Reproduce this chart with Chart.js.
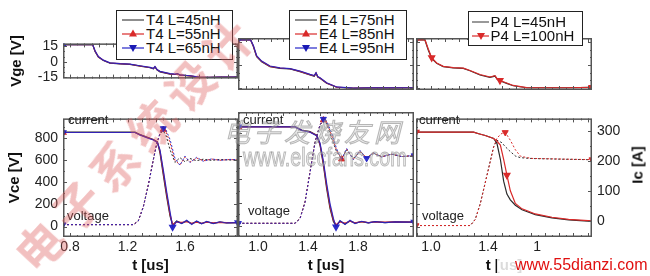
<!DOCTYPE html>
<html><head><meta charset="utf-8">
<script src="https://cdn.jsdelivr.net/npm/chart.js@4.4.1/dist/chart.umd.min.js"></script>
<style>
html,body{margin:0;padding:0;background:#fff;}
#wrap{position:relative;width:650px;height:276px;overflow:hidden;font-family:"Liberation Sans",Arial,sans-serif;background:#fff;}
canvas{position:absolute;}
.lbl{position:absolute;font-size:13px;line-height:13px;color:#222;white-space:nowrap;z-index:3;}
.leg{position:absolute;box-sizing:border-box;border:1.5px solid #222;background:#fff;font-size:15px;color:#111;z-index:4;}
.row{height:14px;line-height:14px;white-space:nowrap;display:flex;align-items:center;}
.row svg{flex:none;}
.row span{margin-left:2px;}
.wm{position:absolute;white-space:nowrap;z-index:6;pointer-events:none;}
</style></head>
<body><div id="wrap">
<canvas id="g1" width="238" height="62" style="left:0;top:30px"></canvas>
<canvas id="g2" width="176" height="62" style="left:238px;top:30px"></canvas>
<canvas id="g3" width="176" height="62" style="left:416px;top:30px"></canvas>
<canvas id="b1" width="238" height="171" style="left:0;top:105px"></canvas>
<canvas id="b2" width="176" height="171" style="left:238px;top:105px"></canvas>
<canvas id="b3" width="234" height="171" style="left:416px;top:105px"></canvas>

<div class="leg" style="left:116px;top:10px;width:117px;height:50px;padding:1.5px 0 0 5px;">
 <div class="row"><svg width="22" height="14"><line x1="0" y1="7" x2="22" y2="7" stroke="#444" stroke-width="1.2"/></svg><span>T4 L=45nH</span></div>
 <div class="row"><svg width="22" height="14"><line x1="0" y1="7" x2="22" y2="7" stroke="#d92a2a" stroke-width="1.2"/><polygon points="11,2.5 15,9.5 7,9.5" fill="#d92a2a"/></svg><span>T4 L=55nH</span></div>
 <div class="row"><svg width="22" height="14"><line x1="0" y1="7" x2="22" y2="7" stroke="#2626c8" stroke-width="1.2"/><polygon points="7,4 15,4 11,11" fill="#1a1ab4"/></svg><span>T4 L=65nH</span></div>
</div>
<div class="leg" style="left:289px;top:10px;width:118px;height:50px;padding:1.5px 0 0 5px;">
 <div class="row"><svg width="22" height="14"><line x1="0" y1="7" x2="22" y2="7" stroke="#444" stroke-width="1.2"/></svg><span>E4 L=75nH</span></div>
 <div class="row"><svg width="22" height="14"><line x1="0" y1="7" x2="22" y2="7" stroke="#d92a2a" stroke-width="1.2"/><polygon points="11,2.5 15,9.5 7,9.5" fill="#d92a2a"/></svg><span>E4 L=85nH</span></div>
 <div class="row"><svg width="22" height="14"><line x1="0" y1="7" x2="22" y2="7" stroke="#2626c8" stroke-width="1.2"/><polygon points="7,4 15,4 11,11" fill="#1a1ab4"/></svg><span>E4 L=95nH</span></div>
</div>
<div class="leg" style="left:468px;top:11px;width:115px;height:35px;padding:2.5px 0 0 2.5px;">
 <div class="row"><svg width="17" height="14"><line x1="0" y1="7" x2="17" y2="7" stroke="#555" stroke-width="1.2"/></svg><span>P4 L=45nH</span></div>
 <div class="row"><svg width="17" height="14"><line x1="0" y1="7" x2="17" y2="7" stroke="#d92a2a" stroke-width="1.2"/><polygon points="5,4 13,4 9,11" fill="#d92a2a"/></svg><span>P4 L=100nH</span></div>
</div>

<div class="lbl" style="left:68px;top:112.5px">current</div>
<div class="lbl" style="left:67px;top:209px">voltage</div>
<div class="lbl" style="left:243px;top:112.5px">current</div>
<div class="lbl" style="left:248px;top:204px">voltage</div>
<div class="lbl" style="left:419px;top:112.5px">current</div>
<div class="lbl" style="left:422px;top:209px">voltage</div>

<div style="position:absolute;left:636.5px;top:165px;transform:translate(-50%,-50%) rotate(-90deg);font-weight:bold;font-size:15px;color:#111;white-space:nowrap;z-index:3;">Ic [A]</div>

<div class="wm" style="left:224px;top:112px;font-family:'Noto Sans CJK SC';font-style:italic;font-size:26px;letter-spacing:4px;color:rgba(200,200,200,0.35);-webkit-text-stroke:1px rgba(130,130,130,0.55);">电子发烧友网</div>
<div class="wm" style="left:243px;top:142px;font-family:'Liberation Sans',Arial;font-size:26px;color:rgba(200,200,200,0.35);-webkit-text-stroke:1px rgba(130,130,130,0.55);transform:scaleX(0.76);transform-origin:0 0;">www.elecfans.com</div>
<div class="wm" style="left:-36px;top:120px;width:330px;height:54px;text-align:center;font-family:'Noto Sans CJK SC';font-weight:bold;font-size:47px;line-height:54px;letter-spacing:8px;padding-left:8px;box-sizing:border-box;color:rgba(220,90,90,0.38);transform:rotate(-47deg);transform-origin:50% 50%;">电子系统设计</div>
<div class="wm" style="left:497px;top:256px;width:153px;height:20px;background:rgba(255,255,255,0.85);"></div>
<div class="wm" style="left:515px;top:256px;font-family:'Liberation Sans',Arial;font-size:16px;line-height:18px;color:#e01010;">www.55dianzi.com</div>
</div>
<script>
// ---------- tick labels ----------
const vgeTicks = [-15, 0, 15];
const vceTicks = [0, 200, 400, 600, 800];
const icTicks = [0, 100, 200, 300];
const xTicks1 = [0.8, 1.2, 1.6];
const xTicks2 = [1.0, 1.4, 1.8];
const xTicks3 = [1.0, 1.4, 1.8];

// ---------- Panel 1 : T4 ----------
const tG1 = [0.751,0.958,0.974,0.997,1.032,1.078,1.148,1.217,1.287,1.357,1.380,1.391,1.405,1.426,1.496,1.530,1.547,1.565,1.635,1.704,1.774,1.843,1.936,1.969];
const vgeT45 = [16.5,16.5,9.9,4.4,1.1,-1.5,-2.2,-2.6,-4.4,-5.9,-7.0,-5.2,-8.0,-9.9,-12.1,-12.5,-12.0,-13.2,-13.9,-15.4,-15.4,-15.0,-15.0,-14.8];
const vgeT55 = [16.5,16.5,10.3,4.7,1.3,-1.3,-2.0,-2.5,-4.2,-5.7,-6.8,-5.0,-7.8,-9.6,-11.9,-12.4,-11.8,-13.0,-13.8,-15.2,-15.3,-15.0,-15.0,-14.9];
const vgeT65 = [16.5,16.5,10.6,5.0,1.5,-1.1,-1.9,-2.4,-4.0,-5.5,-6.6,-4.8,-7.6,-9.4,-11.7,-12.2,-11.6,-12.9,-13.7,-15.1,-15.3,-15.1,-15.0,-14.9];
const tC1 = [0.751,1.252,1.287,1.334,1.380,1.408,1.426,1.449,1.473,1.496,1.514,1.542,1.577,1.612,1.647,1.681,1.716,1.751,1.797,1.843,1.890,1.969];
const icT45 = [295,295,287,279,271,263,226,153,79,16,-14,0,-8,0,-10,-2,-9,-3,-8,-4,-7,-6];
const icT55 = [294,294,286,278,270,262,232,162,88,22,-12,-4,-5,-3,-8,-4,-8,-4,-7,-5,-6,-6];
const icT65 = [294,294,286,277,269,261,236,170,96,30,-21,-2,-9,2,-12,0,-10,-2,-9,-3,-7,-6];
const tV1 = [0.751,1.241,1.275,1.310,1.345,1.380,1.403,1.426,1.449,1.468,1.496,1.530,1.565,1.600,1.635,1.681,1.728,1.786,1.844,1.913,1.969];
const vceT45 = [17,17,52,181,381,611,754,840,869,826,697,582,625,588,617,597,611,600,609,603,606];
const vceT55 = [17,17,50,178,378,608,750,842,880,860,760,600,560,630,585,622,596,612,601,608,604];
const vceT65 = [17,17,50,176,375,605,748,845,890,875,790,620,555,640,580,628,592,614,600,609,605];

// ---------- Panel 2 : E4 ----------
const tG2 = [0.84,0.941,0.963,0.989,1.029,1.096,1.176,1.256,1.336,1.416,1.450,1.464,1.478,1.496,1.549,1.629,1.709,1.763,1.896,2.029,2.25];
const vgeE75 = [16.5,16.5,12.1,5.5,2.2,-1.1,-2.2,-2.6,-4.4,-6.6,-7.4,-5.5,-8.0,-8.8,-12.1,-14.7,-15.0,-15.4,-15.1,-15.1,-15.0];
const vgeE85 = [16.5,16.5,12.5,5.8,2.4,-0.9,-2.0,-2.5,-4.2,-6.4,-7.2,-5.3,-7.8,-8.6,-11.9,-14.6,-15.0,-15.3,-15.1,-15.1,-15.0];
const vgeE95 = [16.5,16.5,12.8,6.1,2.6,-0.7,-1.9,-2.4,-4.0,-6.2,-7.0,-5.1,-7.6,-8.4,-11.7,-14.5,-14.9,-15.3,-15.1,-15.1,-15.0];
const tC2 = [0.843,1.296,1.349,1.416,1.469,1.496,1.523,1.549,1.576,1.603,1.624,1.656,1.696,1.736,1.776,1.829,1.883,1.936,2.016,2.096,2.25];
const icE75 = [295,295,284,279,268,237,174,100,37,-5,-18,-3,-13,-3,-10,-5,-9,-5,-8,-6,-7];
const icE85 = [294,294,283,278,267,240,180,108,44,0,-15,-6,-10,-4,-9,-5,-8,-6,-7,-6,-7];
const icE95 = [294,294,283,277,266,243,186,116,52,5,-22,-2,-14,-1,-11,-4,-9,-5,-8,-6,-7];
const tV2 = [0.843,1.296,1.336,1.376,1.416,1.456,1.496,1.523,1.549,1.589,1.629,1.669,1.709,1.763,1.816,1.869,1.923,1.989,2.069,2.149,2.25];
const vceE75 = [23,23,66,209,467,725,869,905,883,754,639,582,654,582,639,588,625,597,617,597,606];
const vceE85 = [23,23,64,205,462,720,870,912,895,780,650,575,660,575,645,585,628,595,618,598,606];
const vceE95 = [23,23,62,200,458,715,870,920,905,800,665,570,668,570,650,582,630,593,619,598,606];

// ---------- Panel 3 : P4 ----------
const tG3 = [0.895,0.958,0.981,1.005,1.040,1.086,1.156,1.227,1.274,1.344,1.414,1.449,1.465,1.484,1.531,1.577,1.672,1.765,1.952,2.13];
const vgeP45 = [16.5,16.5,9.9,4.4,1.1,-1.1,-1.9,-2.2,-3.8,-6.6,-8.1,-7.3,-9.5,-10.4,-12.1,-13.7,-15.0,-15.0,-15.0,-14.8];
const vgeP100 = [16.5,16.5,10.5,4.8,1.3,-0.9,-1.8,-2.1,-3.6,-6.3,-7.9,-7.0,-9.2,-10.2,-11.9,-13.5,-14.9,-15.0,-15.0,-14.8];
const tC3 = [0.895,1.299,1.335,1.381,1.440,1.463,1.487,1.510,1.533,1.557,1.592,1.639,1.662,1.732,1.849,1.966,2.13];
const icP45 = [295,295,290,284,274,258,205,132,89,70,52,37,33,21,10,3,-2];
const icP100 = [295,295,290,284,274,265,252,205,152,100,58,40,36,23,12,5,0];
const tV3 = [0.895,1.276,1.311,1.346,1.393,1.440,1.463,1.487,1.498,1.521,1.557,1.592,1.627,1.674,1.709,1.919,2.13];
const vceP45 = [9,9,66,209,467,725,783,768,760,725,680,640,625,620,617,611,606];
const vceP100 = [9,9,64,205,462,720,800,835,845,854,783,697,639,625,618,612,607];

// ---------- styling ----------
const FONT = "'Liberation Sans', Arial, sans-serif";
const BLACK = '#2a2a2a', RED = '#d92a2a', BLUE = 'rgba(32,32,196,0.9)';
const tickFont = {family: FONT, size: 14};
const titleFont = {family: FONT, size: 15, weight: 'bold'};

function ser(ts, vs, color, o) {
  const marks = (o && o.marks) || [];
  return Object.assign({
    data: ts.map((t, i) => ({x: t, y: vs[i]})),
    borderColor: color, backgroundColor: color,
    pointBackgroundColor: color, pointBorderColor: color,
    borderWidth: 1.2, tension: 0, fill: false,
    pointRadius: c => marks.includes(c.dataIndex) ? 3.5 : 0,
    pointHoverRadius: 0, pointStyle: 'triangle'
  }, o, {marks: undefined});
}

const frame = {
  id: 'frame',
  afterDatasetsDraw(chart, args, o) {
    const {ctx, chartArea: a, scales} = chart;
    ctx.save();
    ctx.strokeStyle = '#555'; ctx.lineWidth = 1;
    const seg = (x1, y1, x2, y2) => { ctx.beginPath(); ctx.moveTo(x1, y1); ctx.lineTo(x2, y2); ctx.stroke(); };
    const xs = scales.x;
    for (let n = Math.ceil(xs.min / o.xStep - 1e-6); n <= Math.floor(xs.max / o.xStep + 1e-6); n++) {
      const px = Math.round(xs.getPixelForValue(n * o.xStep)) + 0.5;
      const len = (n % o.xMaj === 0) ? 4 : 2;
      seg(px, a.bottom, px, a.bottom - len);
      seg(px, a.top, px, a.top + len);
    }
    const side = (sc, step, maj, left) => {
      for (let n = Math.ceil(sc.min / step - 1e-6); n <= Math.floor(sc.max / step + 1e-6); n++) {
        const py = Math.round(sc.getPixelForValue(n * step)) + 0.5;
        const len = (n % maj === 0) ? 4 : 2;
        if (left) seg(a.left, py, a.left + len, py); else seg(a.right, py, a.right - len, py);
      }
    };
    side(scales[o.yL], o.yLStep, o.yLMaj, true);
    side(scales[o.yR], o.yRStep, o.yRMaj, false);
    ctx.lineWidth = 1.5; ctx.strokeStyle = '#555';
    ctx.strokeRect(a.left + 0.75, a.top + 0.75, a.width - 1.5, a.height - 1.5);
    ctx.restore();
  }
};

function mk(id, c) {
  const scales = {
    x: {
      type: 'linear', min: c.xmin, max: c.xmax, display: !!c.xShow,
      grid: {display: false, drawTicks: false}, border: {display: false},
      afterBuildTicks: s => { s.ticks = c.xTicks.map(v => ({value: v})); },
      afterFit: s => { s.height = s.options.display ? 39 : 0; },
      ticks: {font: tickFont, color: '#222', padding: 2, maxRotation: 0, minRotation: 0, autoSkip: false,
              callback: c.xFmt || (v => v.toFixed(1))},
      title: {display: true, text: 't [us]', font: titleFont, color: '#111', padding: {top: 0, bottom: 1}}
    },
    y: {
      type: 'linear', position: 'left', min: c.ymin, max: c.ymax, display: !!c.yShow,
      grid: {display: false, drawTicks: false}, border: {display: false},
      afterBuildTicks: s => { s.ticks = c.yTicks.map(v => ({value: v})); },
      afterFit: s => { s.width = s.options.display ? 63 : 0; },
      ticks: {font: tickFont, color: '#222', padding: 5},
      title: {display: true, text: c.yTitle, font: titleFont, color: '#111', padding: {top: c.yTitlePad, bottom: 0}}
    }
  };
  if (c.y1) {
    scales.y1 = {
      type: 'linear', position: 'right', min: -53.7, max: 341, display: !!c.y1Show,
      grid: {display: false, drawTicks: false}, border: {display: false},
      afterBuildTicks: s => { s.ticks = icTicks.map(v => ({value: v})); },
      afterFit: s => { s.width = s.options.display ? 58 : 0; },
      ticks: {font: tickFont, color: '#222', padding: 5}
    };
  }
  return new Chart(document.getElementById(id), {
    type: 'line',
    data: {datasets: c.datasets},
    options: {
      responsive: false, animation: false, devicePixelRatio: 1,
      layout: {autoPadding: false, padding: c.pad},
      plugins: {legend: {display: false}, tooltip: {enabled: false}, frame: c.frame},
      scales
    },
    plugins: [frame]
  });
}

const topPad = {top: 8, bottom: 2, left: 0, right: 0};
const botPad = {top: 7, bottom: 0, left: 0, right: 0};
const gFrame = {xStep: 0.05, xMaj: 2, yL: 'y', yLStep: 5, yLMaj: 3, yR: 'y', yRStep: 5, yRMaj: 3};
const X1 = {xmin: 0.751, xmax: 1.969, xTicks: xTicks1};
const X2 = {xmin: 0.84, xmax: 2.248, xTicks: xTicks2};
const X3 = {xmin: 0.895, xmax: 2.13, xTicks: xTicks3, xFmt: v => v === 1.8 ? '1    ' : v.toFixed(1)};
const VGE = {ymin: -16.5, ymax: 17.8, yTicks: vgeTicks, yTitle: 'Vge [V]', yTitlePad: 8};
const VCE = {ymin: -95, ymax: 981, yTicks: vceTicks, yTitle: 'Vce [V]', yTitlePad: 6};

// ---- top (Vge) panels ----
mk('g1', Object.assign({}, X1, VGE, {pad: topPad, yShow: true, frame: gFrame, datasets: [
  ser(tG1, vgeT65, BLUE, {order: 0, marks: [0]}),
  ser(tG1, vgeT55, RED, {order: 1}),
  ser(tG1, vgeT45, BLACK, {order: 2})
]}));
mk('g2', Object.assign({}, X2, VGE, {pad: topPad, frame: gFrame, datasets: [
  ser(tG2, vgeE95, BLUE, {order: 0, marks: [0], rotation: 180}),
  ser(tG2, vgeE85, RED, {order: 1}),
  ser(tG2, vgeE75, BLACK, {order: 2})
]}));
mk('g3', Object.assign({}, X3, VGE, {pad: topPad, frame: gFrame, datasets: [
  ser(tG3, vgeP100, RED, {order: 0, marks: [0, 3, 13, 19], rotation: 180}),
  ser(tG3, vgeP45, BLACK, {order: 1})
]}));

// ---- bottom (Vce / Ic) panels ----
const bFrame = {xStep: 0.05, xMaj: 2, yL: 'y', yLStep: 100, yLMaj: 2, yR: 'y', yRStep: 100, yRMaj: 2};
const dash = {borderDash: [2, 2], borderWidth: 1};
mk('b1', Object.assign({}, X1, VCE, {pad: botPad, xShow: true, yShow: true, y1: true, frame: bFrame, datasets: [
  ser(tC1, icT65, BLUE, {yAxisID: 'y1', order: 0, marks: [0, 10, 21], rotation: 180}),
  ser(tC1, icT55, RED, {yAxisID: 'y1', order: 1, marks: [0]}),
  ser(tC1, icT45, BLACK, {yAxisID: 'y1', order: 2}),
  ser(tV1, vceT65, BLUE, Object.assign({yAxisID: 'y', order: 3, marks: [0, 8], rotation: 180}, dash)),
  ser(tV1, vceT55, RED, Object.assign({yAxisID: 'y', order: 4, marks: [8]}, dash)),
  ser(tV1, vceT45, BLACK, Object.assign({yAxisID: 'y', order: 5}, dash))
]}));
mk('b2', Object.assign({}, X2, VCE, {pad: botPad, xShow: true, y1: true, frame: bFrame, datasets: [
  ser(tC2, icE95, BLUE, {yAxisID: 'y1', order: 0, marks: [0, 10, 20], rotation: 180}),
  ser(tC2, icE85, RED, {yAxisID: 'y1', order: 1, marks: [0]}),
  ser(tC2, icE75, BLACK, {yAxisID: 'y1', order: 2}),
  ser(tV2, vceE95, BLUE, Object.assign({yAxisID: 'y', order: 3, marks: [0, 7, 15, 20], rotation: 180}, dash)),
  ser(tV2, vceE85, RED, Object.assign({yAxisID: 'y', order: 4, marks: [7, 11]}, dash)),
  ser(tV2, vceE75, BLACK, Object.assign({yAxisID: 'y', order: 5}, dash))
]}));
mk('b3', Object.assign({}, X3, VCE, {pad: botPad, xShow: true, y1: true, y1Show: true,
  frame: {xStep: 0.05, xMaj: 2, yL: 'y', yLStep: 100, yLMaj: 2, yR: 'y1', yRStep: 50, yRMaj: 2}, datasets: [
  ser(tC3, icP100, RED, {yAxisID: 'y1', order: 0, marks: [0, 8], rotation: 180}),
  ser(tC3, icP45, BLACK, {yAxisID: 'y1', order: 1}),
  ser(tV3, vceP100, RED, Object.assign({yAxisID: 'y', order: 2, marks: [0, 9, 16], rotation: 180}, dash)),
  ser(tV3, vceP45, BLACK, Object.assign({yAxisID: 'y', order: 3}, dash))
]}));
</script>
</body></html>
